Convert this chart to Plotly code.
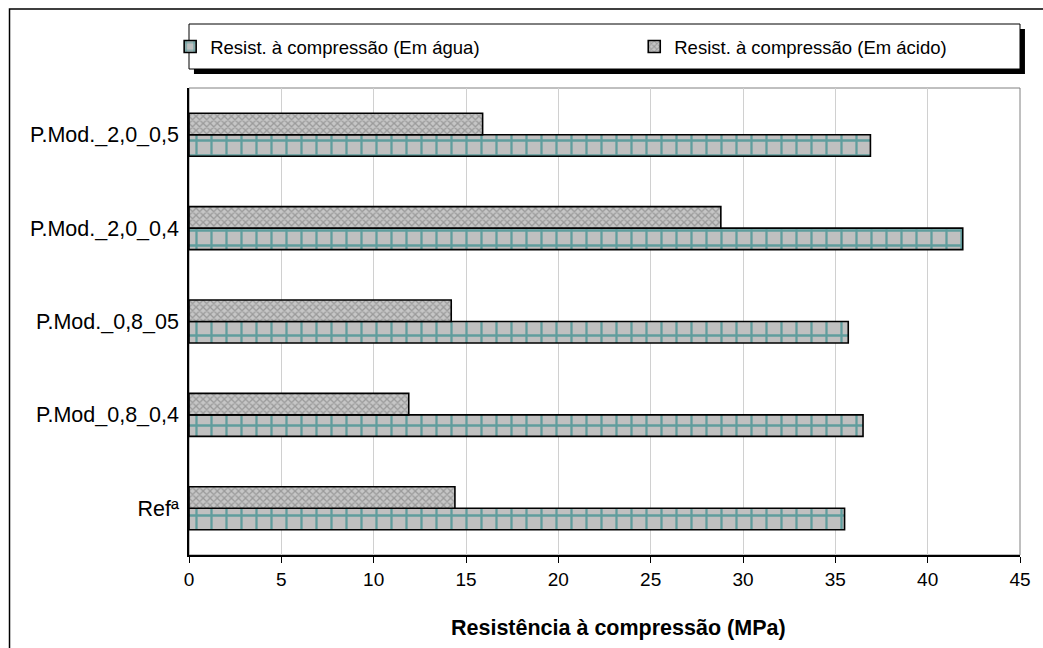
import plotly.graph_objects as go

categories = ["Refª", "P.Mod_0,8_0,4", "P.Mod._0,8_05", "P.Mod._2,0_0,4", "P.Mod._2,0_0,5"]
agua = [35.5, 36.5, 35.7, 41.9, 36.9]
acido = [14.4, 11.9, 14.2, 28.8, 15.9]
series_names = ["Resist. à compressão (Em água)", "Resist. à compressão (Em ácido)"]
x_ticks = [0, 5, 10, 15, 20, 25, 30, 35, 40, 45]
x_title = "Resistência à compressão (MPa)"

FONT = "Liberation Sans, Arial, sans-serif"

fig = go.Figure()
fig.add_trace(go.Bar(
    y=categories, x=agua, orientation="h", name=series_names[0], legend="legend",
    marker=dict(color="#c0c0c0", line=dict(color="#000000", width=1.6),
                pattern=dict(shape="+", size=15, solidity=0.28,
                             fgcolor="#007a7a", bgcolor="#c0c0c0", fillmode="overlay")),
))
fig.add_trace(go.Bar(
    y=categories, x=acido, orientation="h", name=series_names[1], legend="legend2",
    marker=dict(color="#c0c0c0", line=dict(color="#000000", width=1.6),
                pattern=dict(shape="x", size=5, solidity=0.45,
                             fgcolor="#6e6e6e", bgcolor="#c6c6c6", fillmode="overlay")),
))

W, H = 1043, 648
L, R, T, B = 189, 16, 88, 93
pw = W - L - R
ph = H - T - B

def px_x(px):
    return (px - L) / pw

def px_y(py):
    return (H - B - py) / ph

shapes = [
    dict(type="rect", xref="paper", yref="paper", x0=px_x(8), x1=px_x(1100),
         y0=px_y(700), y1=px_y(9), line=dict(color="#000000", width=1.5), layer="below"),
    dict(type="rect", xref="paper", yref="paper", x0=0, x1=1, y0=0, y1=1,
         line=dict(color="#808080", width=1), layer="below"),
    dict(type="rect", xref="paper", yref="paper", x0=px_x(194), x1=px_x(1032),
         y0=px_y(74), y1=px_y(29), fillcolor="#000000", line=dict(width=0), layer="above"),
    dict(type="rect", xref="paper", yref="paper", x0=px_x(189), x1=px_x(1027),
         y0=px_y(69), y1=px_y(24), fillcolor="#ffffff",
         line=dict(color="#000000", width=1), layer="above"),
]

leg_common = dict(orientation="h", yanchor="middle", xanchor="left",
                  bgcolor="rgba(0,0,0,0)", borderwidth=0,
                  font=dict(family=FONT, size=18.5), itemwidth=30)

fig.update_layout(
    width=W, height=H,
    margin=dict(l=L, r=R, t=T, b=B),
    paper_bgcolor="#ffffff", plot_bgcolor="#ffffff",
    barmode="group", bargap=0.54, bargroupgap=0,
    font=dict(family=FONT, size=18, color="#000000"),
    shapes=shapes,
    showlegend=True,
    legend=dict(x=px_x(170), y=px_y(47), **leg_common),
    legend2=dict(x=px_x(638), y=px_y(47), **leg_common),
    annotations=[dict(text="<b>" + x_title + "</b>", xref="paper", yref="paper",
                      x=px_x(622), y=px_y(628), xanchor="center", yanchor="middle",
                      showarrow=False, font=dict(family=FONT, size=21.5))],
    xaxis=dict(range=[0, 45], tickvals=x_ticks, ticktext=[str(v) for v in x_ticks],
               showgrid=True, gridcolor="#d0d0d0", gridwidth=1,
               showline=True, linecolor="#000000", linewidth=1.5,
               ticks="outside", ticklen=6, tickcolor="#000000", zeroline=False,
               tickfont=dict(family=FONT, size=19)),
    yaxis=dict(showline=True, linecolor="#000000", linewidth=1.5, showgrid=False,
               ticks="", tickfont=dict(family=FONT, size=21.5), ticklabelstandoff=4),
)

fig.write_html("out.html")
